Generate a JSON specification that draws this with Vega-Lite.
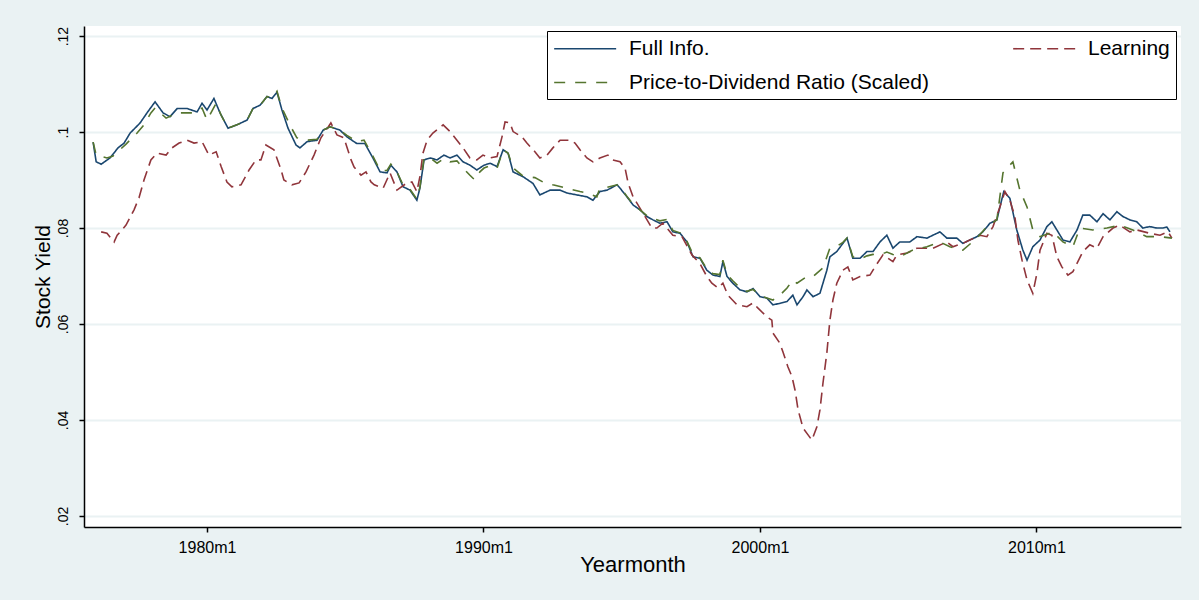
{
  "$schema": "https://vega.github.io/schema/vega-lite/v6.json",
  "width": 1097,
  "height": 501,
  "autosize": {"type": "none"},
  "padding": {"left": 84, "top": 26, "right": 18, "bottom": 73},
  "background": "#EAF2F3",
  "data": {"values": [
    {"s":"Full Info.","t":1975.88,"v":0.0979},{"s":"Full Info.","t":1975.99,"v":0.0938},{"s":"Full Info.","t":1976.17,"v":0.0933},{"s":"Full Info.","t":1976.49,"v":0.0946},{"s":"Full Info.","t":1976.78,"v":0.0967},{"s":"Full Info.","t":1977.00,"v":0.0977},{"s":"Full Info.","t":1977.22,"v":0.0998},{"s":"Full Info.","t":1977.58,"v":0.1019},{"s":"Full Info.","t":1977.83,"v":0.1040},{"s":"Full Info.","t":1978.12,"v":0.1063},{"s":"Full Info.","t":1978.41,"v":0.1040},{"s":"Full Info.","t":1978.66,"v":0.1032},{"s":"Full Info.","t":1978.92,"v":0.1049},{"s":"Full Info.","t":1979.28,"v":0.1049},{"s":"Full Info.","t":1979.64,"v":0.1042},{"s":"Full Info.","t":1979.82,"v":0.1060},{"s":"Full Info.","t":1980.00,"v":0.1046},{"s":"Full Info.","t":1980.25,"v":0.1070},{"s":"Full Info.","t":1980.47,"v":0.1040},{"s":"Full Info.","t":1980.76,"v":0.1008},{"s":"Full Info.","t":1981.08,"v":0.1015},{"s":"Full Info.","t":1981.45,"v":0.1025},{"s":"Full Info.","t":1981.66,"v":0.1049},{"s":"Full Info.","t":1981.92,"v":0.1056},{"s":"Full Info.","t":1982.17,"v":0.1074},{"s":"Full Info.","t":1982.35,"v":0.1070},{"s":"Full Info.","t":1982.53,"v":0.1083},{"s":"Full Info.","t":1982.71,"v":0.1046},{"s":"Full Info.","t":1982.93,"v":0.1008},{"s":"Full Info.","t":1983.22,"v":0.0973},{"s":"Full Info.","t":1983.36,"v":0.0967},{"s":"Full Info.","t":1983.62,"v":0.0980},{"s":"Full Info.","t":1983.98,"v":0.0983},{"s":"Full Info.","t":1984.20,"v":0.1004},{"s":"Full Info.","t":1984.45,"v":0.1011},{"s":"Full Info.","t":1984.81,"v":0.1004},{"s":"Full Info.","t":1985.06,"v":0.0990},{"s":"Full Info.","t":1985.42,"v":0.0976},{"s":"Full Info.","t":1985.71,"v":0.0976},{"s":"Full Info.","t":1986.00,"v":0.0946},{"s":"Full Info.","t":1986.26,"v":0.0917},{"s":"Full Info.","t":1986.51,"v":0.0915},{"s":"Full Info.","t":1986.65,"v":0.0931},{"s":"Full Info.","t":1986.87,"v":0.0917},{"s":"Full Info.","t":1987.09,"v":0.0886},{"s":"Full Info.","t":1987.34,"v":0.0879},{"s":"Full Info.","t":1987.59,"v":0.0858},{"s":"Full Info.","t":1987.70,"v":0.0883},{"s":"Full Info.","t":1987.85,"v":0.0942},{"s":"Full Info.","t":1988.07,"v":0.0946},{"s":"Full Info.","t":1988.32,"v":0.0942},{"s":"Full Info.","t":1988.57,"v":0.0952},{"s":"Full Info.","t":1988.79,"v":0.0946},{"s":"Full Info.","t":1989.04,"v":0.0952},{"s":"Full Info.","t":1989.26,"v":0.0938},{"s":"Full Info.","t":1989.51,"v":0.0931},{"s":"Full Info.","t":1989.76,"v":0.0921},{"s":"Full Info.","t":1990.02,"v":0.0931},{"s":"Full Info.","t":1990.24,"v":0.0935},{"s":"Full Info.","t":1990.49,"v":0.0928},{"s":"Full Info.","t":1990.71,"v":0.0963},{"s":"Full Info.","t":1990.89,"v":0.0956},{"s":"Full Info.","t":1991.07,"v":0.0917},{"s":"Full Info.","t":1991.43,"v":0.0907},{"s":"Full Info.","t":1991.79,"v":0.0893},{"s":"Full Info.","t":1992.04,"v":0.0869},{"s":"Full Info.","t":1992.41,"v":0.0879},{"s":"Full Info.","t":1992.77,"v":0.0879},{"s":"Full Info.","t":1993.02,"v":0.0873},{"s":"Full Info.","t":1993.38,"v":0.0869},{"s":"Full Info.","t":1993.74,"v":0.0865},{"s":"Full Info.","t":1993.96,"v":0.0858},{"s":"Full Info.","t":1994.21,"v":0.0876},{"s":"Full Info.","t":1994.47,"v":0.0879},{"s":"Full Info.","t":1994.83,"v":0.0890},{"s":"Full Info.","t":1994.94,"v":0.0883},{"s":"Full Info.","t":1995.19,"v":0.0865},{"s":"Full Info.","t":1995.41,"v":0.0848},{"s":"Full Info.","t":1995.66,"v":0.0838},{"s":"Full Info.","t":1995.91,"v":0.0824},{"s":"Full Info.","t":1996.13,"v":0.0817},{"s":"Full Info.","t":1996.38,"v":0.0810},{"s":"Full Info.","t":1996.64,"v":0.0813},{"s":"Full Info.","t":1996.85,"v":0.0792},{"s":"Full Info.","t":1997.11,"v":0.0789},{"s":"Full Info.","t":1997.36,"v":0.0771},{"s":"Full Info.","t":1997.58,"v":0.0740},{"s":"Full Info.","t":1997.83,"v":0.0737},{"s":"Full Info.","t":1998.08,"v":0.0712},{"s":"Full Info.","t":1998.30,"v":0.0702},{"s":"Full Info.","t":1998.55,"v":0.0699},{"s":"Full Info.","t":1998.66,"v":0.0730},{"s":"Full Info.","t":1998.81,"v":0.0699},{"s":"Full Info.","t":1999.02,"v":0.0685},{"s":"Full Info.","t":1999.28,"v":0.0671},{"s":"Full Info.","t":1999.53,"v":0.0667},{"s":"Full Info.","t":1999.75,"v":0.0674},{"s":"Full Info.","t":2000.00,"v":0.0657},{"s":"Full Info.","t":2000.25,"v":0.0654},{"s":"Full Info.","t":2000.47,"v":0.0640},{"s":"Full Info.","t":2000.72,"v":0.0643},{"s":"Full Info.","t":2000.98,"v":0.0647},{"s":"Full Info.","t":2001.19,"v":0.0660},{"s":"Full Info.","t":2001.34,"v":0.0640},{"s":"Full Info.","t":2001.56,"v":0.0657},{"s":"Full Info.","t":2001.70,"v":0.0671},{"s":"Full Info.","t":2001.92,"v":0.0657},{"s":"Full Info.","t":2002.17,"v":0.0664},{"s":"Full Info.","t":2002.42,"v":0.0712},{"s":"Full Info.","t":2002.53,"v":0.0740},{"s":"Full Info.","t":2002.78,"v":0.0751},{"s":"Full Info.","t":2003.00,"v":0.0768},{"s":"Full Info.","t":2003.15,"v":0.0779},{"s":"Full Info.","t":2003.36,"v":0.0737},{"s":"Full Info.","t":2003.62,"v":0.0737},{"s":"Full Info.","t":2003.87,"v":0.0751},{"s":"Full Info.","t":2004.09,"v":0.0751},{"s":"Full Info.","t":2004.34,"v":0.0771},{"s":"Full Info.","t":2004.59,"v":0.0785},{"s":"Full Info.","t":2004.81,"v":0.0758},{"s":"Full Info.","t":2005.06,"v":0.0771},{"s":"Full Info.","t":2005.42,"v":0.0771},{"s":"Full Info.","t":2005.68,"v":0.0782},{"s":"Full Info.","t":2006.04,"v":0.0779},{"s":"Full Info.","t":2006.51,"v":0.0792},{"s":"Full Info.","t":2006.76,"v":0.0779},{"s":"Full Info.","t":2007.12,"v":0.0779},{"s":"Full Info.","t":2007.34,"v":0.0768},{"s":"Full Info.","t":2007.59,"v":0.0775},{"s":"Full Info.","t":2007.85,"v":0.0782},{"s":"Full Info.","t":2008.06,"v":0.0792},{"s":"Full Info.","t":2008.32,"v":0.0810},{"s":"Full Info.","t":2008.57,"v":0.0817},{"s":"Full Info.","t":2008.68,"v":0.0844},{"s":"Full Info.","t":2008.82,"v":0.0876},{"s":"Full Info.","t":2009.04,"v":0.0862},{"s":"Full Info.","t":2009.29,"v":0.0796},{"s":"Full Info.","t":2009.51,"v":0.0754},{"s":"Full Info.","t":2009.66,"v":0.0733},{"s":"Full Info.","t":2009.87,"v":0.0761},{"s":"Full Info.","t":2010.13,"v":0.0775},{"s":"Full Info.","t":2010.38,"v":0.0803},{"s":"Full Info.","t":2010.56,"v":0.0813},{"s":"Full Info.","t":2010.74,"v":0.0796},{"s":"Full Info.","t":2010.96,"v":0.0775},{"s":"Full Info.","t":2011.21,"v":0.0771},{"s":"Full Info.","t":2011.47,"v":0.0796},{"s":"Full Info.","t":2011.68,"v":0.0827},{"s":"Full Info.","t":2011.93,"v":0.0827},{"s":"Full Info.","t":2012.19,"v":0.0813},{"s":"Full Info.","t":2012.41,"v":0.0830},{"s":"Full Info.","t":2012.66,"v":0.0817},{"s":"Full Info.","t":2012.91,"v":0.0834},{"s":"Full Info.","t":2013.13,"v":0.0824},{"s":"Full Info.","t":2013.38,"v":0.0817},{"s":"Full Info.","t":2013.63,"v":0.0813},{"s":"Full Info.","t":2013.85,"v":0.0800},{"s":"Full Info.","t":2014.10,"v":0.0803},{"s":"Full Info.","t":2014.35,"v":0.0800},{"s":"Full Info.","t":2014.58,"v":0.0800},{"s":"Full Info.","t":2014.72,"v":0.0802},{"s":"Full Info.","t":2014.83,"v":0.0792},

    {"s":"Learning","t":1976.17,"v":0.0792},{"s":"Learning","t":1976.38,"v":0.0789},{"s":"Learning","t":1976.64,"v":0.0771},{"s":"Learning","t":1976.75,"v":0.0785},{"s":"Learning","t":1977.07,"v":0.0806},{"s":"Learning","t":1977.36,"v":0.0838},{"s":"Learning","t":1977.54,"v":0.0863},{"s":"Learning","t":1977.72,"v":0.0900},{"s":"Learning","t":1977.97,"v":0.0942},{"s":"Learning","t":1978.19,"v":0.0956},{"s":"Learning","t":1978.52,"v":0.0952},{"s":"Learning","t":1978.73,"v":0.0967},{"s":"Learning","t":1978.99,"v":0.0977},{"s":"Learning","t":1979.28,"v":0.0983},{"s":"Learning","t":1979.53,"v":0.0977},{"s":"Learning","t":1979.82,"v":0.0980},{"s":"Learning","t":1980.07,"v":0.0952},{"s":"Learning","t":1980.33,"v":0.0959},{"s":"Learning","t":1980.51,"v":0.0928},{"s":"Learning","t":1980.72,"v":0.0896},{"s":"Learning","t":1980.90,"v":0.0886},{"s":"Learning","t":1981.23,"v":0.0890},{"s":"Learning","t":1981.52,"v":0.0921},{"s":"Learning","t":1981.77,"v":0.0942},{"s":"Learning","t":1981.95,"v":0.0942},{"s":"Learning","t":1982.13,"v":0.0973},{"s":"Learning","t":1982.42,"v":0.0963},{"s":"Learning","t":1982.68,"v":0.0921},{"s":"Learning","t":1982.78,"v":0.0900},{"s":"Learning","t":1983.07,"v":0.0890},{"s":"Learning","t":1983.33,"v":0.0894},{"s":"Learning","t":1983.58,"v":0.0917},{"s":"Learning","t":1983.87,"v":0.0952},{"s":"Learning","t":1984.12,"v":0.0988},{"s":"Learning","t":1984.48,"v":0.1019},{"s":"Learning","t":1984.70,"v":0.0994},{"s":"Learning","t":1984.95,"v":0.0988},{"s":"Learning","t":1985.21,"v":0.0942},{"s":"Learning","t":1985.32,"v":0.0927},{"s":"Learning","t":1985.57,"v":0.0910},{"s":"Learning","t":1985.75,"v":0.0917},{"s":"Learning","t":1985.93,"v":0.0896},{"s":"Learning","t":1986.05,"v":0.0890},{"s":"Learning","t":1986.37,"v":0.0883},{"s":"Learning","t":1986.62,"v":0.0915},{"s":"Learning","t":1986.87,"v":0.0879},{"s":"Learning","t":1987.23,"v":0.0894},{"s":"Learning","t":1987.41,"v":0.0896},{"s":"Learning","t":1987.59,"v":0.0876},{"s":"Learning","t":1987.70,"v":0.0907},{"s":"Learning","t":1987.81,"v":0.0956},{"s":"Learning","t":1987.96,"v":0.0983},{"s":"Learning","t":1988.17,"v":0.0998},{"s":"Learning","t":1988.54,"v":0.1015},{"s":"Learning","t":1988.79,"v":0.1001},{"s":"Learning","t":1989.04,"v":0.0983},{"s":"Learning","t":1989.26,"v":0.0967},{"s":"Learning","t":1989.51,"v":0.0946},{"s":"Learning","t":1989.76,"v":0.0942},{"s":"Learning","t":1989.98,"v":0.0952},{"s":"Learning","t":1990.24,"v":0.0946},{"s":"Learning","t":1990.49,"v":0.0949},{"s":"Learning","t":1990.67,"v":0.0990},{"s":"Learning","t":1990.78,"v":0.1021},{"s":"Learning","t":1990.96,"v":0.1019},{"s":"Learning","t":1991.07,"v":0.1001},{"s":"Learning","t":1991.39,"v":0.0990},{"s":"Learning","t":1991.57,"v":0.0977},{"s":"Learning","t":1991.86,"v":0.0959},{"s":"Learning","t":1992.04,"v":0.0946},{"s":"Learning","t":1992.30,"v":0.0952},{"s":"Learning","t":1992.51,"v":0.0967},{"s":"Learning","t":1992.77,"v":0.0983},{"s":"Learning","t":1993.13,"v":0.0983},{"s":"Learning","t":1993.31,"v":0.0977},{"s":"Learning","t":1993.49,"v":0.0963},{"s":"Learning","t":1993.74,"v":0.0946},{"s":"Learning","t":1993.96,"v":0.0938},{"s":"Learning","t":1994.21,"v":0.0946},{"s":"Learning","t":1994.50,"v":0.0952},{"s":"Learning","t":1994.68,"v":0.0942},{"s":"Learning","t":1994.94,"v":0.0938},{"s":"Learning","t":1995.12,"v":0.0925},{"s":"Learning","t":1995.23,"v":0.0894},{"s":"Learning","t":1995.41,"v":0.0865},{"s":"Learning","t":1995.55,"v":0.0852},{"s":"Learning","t":1995.77,"v":0.0831},{"s":"Learning","t":1996.09,"v":0.0800},{"s":"Learning","t":1996.27,"v":0.0800},{"s":"Learning","t":1996.49,"v":0.0810},{"s":"Learning","t":1996.85,"v":0.0785},{"s":"Learning","t":1997.18,"v":0.0782},{"s":"Learning","t":1997.54,"v":0.0744},{"s":"Learning","t":1997.83,"v":0.0726},{"s":"Learning","t":1998.08,"v":0.0699},{"s":"Learning","t":1998.26,"v":0.0685},{"s":"Learning","t":1998.48,"v":0.0675},{"s":"Learning","t":1998.66,"v":0.0685},{"s":"Learning","t":1998.84,"v":0.0660},{"s":"Learning","t":1999.17,"v":0.0640},{"s":"Learning","t":1999.53,"v":0.0636},{"s":"Learning","t":1999.75,"v":0.0644},{"s":"Learning","t":1999.93,"v":0.0633},{"s":"Learning","t":2000.25,"v":0.0615},{"s":"Learning","t":2000.43,"v":0.0608},{"s":"Learning","t":2000.47,"v":0.0581},{"s":"Learning","t":2000.72,"v":0.0560},{"s":"Learning","t":2000.83,"v":0.0542},{"s":"Learning","t":2001.01,"v":0.0511},{"s":"Learning","t":2001.16,"v":0.0490},{"s":"Learning","t":2001.27,"v":0.0462},{"s":"Learning","t":2001.38,"v":0.0421},{"s":"Learning","t":2001.56,"v":0.0383},{"s":"Learning","t":2001.74,"v":0.0369},{"s":"Learning","t":2001.88,"v":0.0358},{"s":"Learning","t":2002.06,"v":0.0386},{"s":"Learning","t":2002.17,"v":0.0421},{"s":"Learning","t":2002.28,"v":0.0477},{"s":"Learning","t":2002.42,"v":0.0540},{"s":"Learning","t":2002.53,"v":0.0608},{"s":"Learning","t":2002.64,"v":0.0650},{"s":"Learning","t":2002.78,"v":0.0685},{"s":"Learning","t":2003.00,"v":0.0712},{"s":"Learning","t":2003.18,"v":0.0719},{"s":"Learning","t":2003.36,"v":0.0692},{"s":"Learning","t":2003.62,"v":0.0699},{"s":"Learning","t":2003.98,"v":0.0702},{"s":"Learning","t":2004.16,"v":0.0719},{"s":"Learning","t":2004.45,"v":0.0744},{"s":"Learning","t":2004.81,"v":0.0730},{"s":"Learning","t":2004.95,"v":0.0744},{"s":"Learning","t":2005.32,"v":0.0748},{"s":"Learning","t":2005.68,"v":0.0758},{"s":"Learning","t":2006.04,"v":0.0758},{"s":"Learning","t":2006.26,"v":0.0758},{"s":"Learning","t":2006.76,"v":0.0771},{"s":"Learning","t":2006.98,"v":0.0761},{"s":"Learning","t":2007.34,"v":0.0768},{"s":"Learning","t":2007.59,"v":0.0775},{"s":"Learning","t":2007.96,"v":0.0785},{"s":"Learning","t":2008.21,"v":0.0782},{"s":"Learning","t":2008.43,"v":0.0803},{"s":"Learning","t":2008.68,"v":0.0844},{"s":"Learning","t":2008.86,"v":0.0876},{"s":"Learning","t":2009.04,"v":0.0858},{"s":"Learning","t":2009.22,"v":0.0824},{"s":"Learning","t":2009.33,"v":0.0775},{"s":"Learning","t":2009.48,"v":0.0733},{"s":"Learning","t":2009.66,"v":0.0692},{"s":"Learning","t":2009.87,"v":0.0664},{"s":"Learning","t":2010.02,"v":0.0706},{"s":"Learning","t":2010.13,"v":0.0754},{"s":"Learning","t":2010.38,"v":0.0789},{"s":"Learning","t":2010.56,"v":0.0785},{"s":"Learning","t":2010.74,"v":0.0740},{"s":"Learning","t":2010.92,"v":0.0719},{"s":"Learning","t":2011.14,"v":0.0702},{"s":"Learning","t":2011.32,"v":0.0709},{"s":"Learning","t":2011.50,"v":0.0730},{"s":"Learning","t":2011.68,"v":0.0751},{"s":"Learning","t":2011.93,"v":0.0765},{"s":"Learning","t":2012.19,"v":0.0758},{"s":"Learning","t":2012.41,"v":0.0782},{"s":"Learning","t":2012.77,"v":0.0800},{"s":"Learning","t":2013.02,"v":0.0806},{"s":"Learning","t":2013.38,"v":0.0792},{"s":"Learning","t":2013.63,"v":0.0796},{"s":"Learning","t":2014.10,"v":0.0789},{"s":"Learning","t":2014.47,"v":0.0785},{"s":"Learning","t":2014.76,"v":0.0792},{"s":"Learning","t":2014.90,"v":0.0779},

    {"s":"Price-to-Dividend Ratio (Scaled)","t":1975.88,"v":0.0979},{"s":"Price-to-Dividend Ratio (Scaled)","t":1975.99,"v":0.0952},{"s":"Price-to-Dividend Ratio (Scaled)","t":1976.38,"v":0.0946},{"s":"Price-to-Dividend Ratio (Scaled)","t":1976.60,"v":0.0950},{"s":"Price-to-Dividend Ratio (Scaled)","t":1976.85,"v":0.0963},{"s":"Price-to-Dividend Ratio (Scaled)","t":1977.07,"v":0.0975},{"s":"Price-to-Dividend Ratio (Scaled)","t":1977.47,"v":0.0998},{"s":"Price-to-Dividend Ratio (Scaled)","t":1977.72,"v":0.1015},{"s":"Price-to-Dividend Ratio (Scaled)","t":1977.97,"v":0.1040},{"s":"Price-to-Dividend Ratio (Scaled)","t":1978.12,"v":0.1050},{"s":"Price-to-Dividend Ratio (Scaled)","t":1978.52,"v":0.1029},{"s":"Price-to-Dividend Ratio (Scaled)","t":1978.92,"v":0.1040},{"s":"Price-to-Dividend Ratio (Scaled)","t":1979.53,"v":0.1040},{"s":"Price-to-Dividend Ratio (Scaled)","t":1979.82,"v":0.1050},{"s":"Price-to-Dividend Ratio (Scaled)","t":1980.00,"v":0.1025},{"s":"Price-to-Dividend Ratio (Scaled)","t":1980.33,"v":0.1060},{"s":"Price-to-Dividend Ratio (Scaled)","t":1980.51,"v":0.1035},{"s":"Price-to-Dividend Ratio (Scaled)","t":1980.76,"v":0.1008},{"s":"Price-to-Dividend Ratio (Scaled)","t":1981.08,"v":0.1015},{"s":"Price-to-Dividend Ratio (Scaled)","t":1981.45,"v":0.1025},{"s":"Price-to-Dividend Ratio (Scaled)","t":1981.66,"v":0.1049},{"s":"Price-to-Dividend Ratio (Scaled)","t":1981.92,"v":0.1056},{"s":"Price-to-Dividend Ratio (Scaled)","t":1982.17,"v":0.1074},{"s":"Price-to-Dividend Ratio (Scaled)","t":1982.35,"v":0.1072},{"s":"Price-to-Dividend Ratio (Scaled)","t":1982.53,"v":0.1085},{"s":"Price-to-Dividend Ratio (Scaled)","t":1982.71,"v":0.1050},{"s":"Price-to-Dividend Ratio (Scaled)","t":1983.04,"v":0.1010},{"s":"Price-to-Dividend Ratio (Scaled)","t":1983.25,"v":0.0988},{"s":"Price-to-Dividend Ratio (Scaled)","t":1983.62,"v":0.0983},{"s":"Price-to-Dividend Ratio (Scaled)","t":1983.98,"v":0.0985},{"s":"Price-to-Dividend Ratio (Scaled)","t":1984.20,"v":0.1004},{"s":"Price-to-Dividend Ratio (Scaled)","t":1984.45,"v":0.1011},{"s":"Price-to-Dividend Ratio (Scaled)","t":1984.81,"v":0.1004},{"s":"Price-to-Dividend Ratio (Scaled)","t":1985.06,"v":0.0993},{"s":"Price-to-Dividend Ratio (Scaled)","t":1985.42,"v":0.0980},{"s":"Price-to-Dividend Ratio (Scaled)","t":1985.68,"v":0.0983},{"s":"Price-to-Dividend Ratio (Scaled)","t":1986.00,"v":0.0950},{"s":"Price-to-Dividend Ratio (Scaled)","t":1986.26,"v":0.0920},{"s":"Price-to-Dividend Ratio (Scaled)","t":1986.51,"v":0.0920},{"s":"Price-to-Dividend Ratio (Scaled)","t":1986.65,"v":0.0933},{"s":"Price-to-Dividend Ratio (Scaled)","t":1986.87,"v":0.0917},{"s":"Price-to-Dividend Ratio (Scaled)","t":1987.09,"v":0.0890},{"s":"Price-to-Dividend Ratio (Scaled)","t":1987.34,"v":0.0881},{"s":"Price-to-Dividend Ratio (Scaled)","t":1987.59,"v":0.0860},{"s":"Price-to-Dividend Ratio (Scaled)","t":1987.70,"v":0.0885},{"s":"Price-to-Dividend Ratio (Scaled)","t":1987.85,"v":0.0946},{"s":"Price-to-Dividend Ratio (Scaled)","t":1988.07,"v":0.0946},{"s":"Price-to-Dividend Ratio (Scaled)","t":1988.32,"v":0.0935},{"s":"Price-to-Dividend Ratio (Scaled)","t":1988.57,"v":0.0945},{"s":"Price-to-Dividend Ratio (Scaled)","t":1988.79,"v":0.0938},{"s":"Price-to-Dividend Ratio (Scaled)","t":1989.04,"v":0.0940},{"s":"Price-to-Dividend Ratio (Scaled)","t":1989.26,"v":0.0925},{"s":"Price-to-Dividend Ratio (Scaled)","t":1989.51,"v":0.0910},{"s":"Price-to-Dividend Ratio (Scaled)","t":1989.69,"v":0.0900},{"s":"Price-to-Dividend Ratio (Scaled)","t":1989.87,"v":0.0917},{"s":"Price-to-Dividend Ratio (Scaled)","t":1990.02,"v":0.0925},{"s":"Price-to-Dividend Ratio (Scaled)","t":1990.24,"v":0.0930},{"s":"Price-to-Dividend Ratio (Scaled)","t":1990.49,"v":0.0925},{"s":"Price-to-Dividend Ratio (Scaled)","t":1990.71,"v":0.0963},{"s":"Price-to-Dividend Ratio (Scaled)","t":1990.89,"v":0.0956},{"s":"Price-to-Dividend Ratio (Scaled)","t":1991.07,"v":0.0925},{"s":"Price-to-Dividend Ratio (Scaled)","t":1991.39,"v":0.0910},{"s":"Price-to-Dividend Ratio (Scaled)","t":1991.57,"v":0.0907},{"s":"Price-to-Dividend Ratio (Scaled)","t":1991.86,"v":0.0905},{"s":"Price-to-Dividend Ratio (Scaled)","t":1992.15,"v":0.0896},{"s":"Price-to-Dividend Ratio (Scaled)","t":1992.51,"v":0.0890},{"s":"Price-to-Dividend Ratio (Scaled)","t":1992.88,"v":0.0885},{"s":"Price-to-Dividend Ratio (Scaled)","t":1993.20,"v":0.0880},{"s":"Price-to-Dividend Ratio (Scaled)","t":1993.49,"v":0.0876},{"s":"Price-to-Dividend Ratio (Scaled)","t":1993.74,"v":0.0873},{"s":"Price-to-Dividend Ratio (Scaled)","t":1994.10,"v":0.0865},{"s":"Price-to-Dividend Ratio (Scaled)","t":1994.21,"v":0.0883},{"s":"Price-to-Dividend Ratio (Scaled)","t":1994.47,"v":0.0885},{"s":"Price-to-Dividend Ratio (Scaled)","t":1994.83,"v":0.0890},{"s":"Price-to-Dividend Ratio (Scaled)","t":1994.94,"v":0.0885},{"s":"Price-to-Dividend Ratio (Scaled)","t":1995.19,"v":0.0866},{"s":"Price-to-Dividend Ratio (Scaled)","t":1995.41,"v":0.0850},{"s":"Price-to-Dividend Ratio (Scaled)","t":1995.66,"v":0.0838},{"s":"Price-to-Dividend Ratio (Scaled)","t":1995.91,"v":0.0826},{"s":"Price-to-Dividend Ratio (Scaled)","t":1996.13,"v":0.0820},{"s":"Price-to-Dividend Ratio (Scaled)","t":1996.38,"v":0.0815},{"s":"Price-to-Dividend Ratio (Scaled)","t":1996.64,"v":0.0818},{"s":"Price-to-Dividend Ratio (Scaled)","t":1996.85,"v":0.0795},{"s":"Price-to-Dividend Ratio (Scaled)","t":1997.11,"v":0.0790},{"s":"Price-to-Dividend Ratio (Scaled)","t":1997.36,"v":0.0772},{"s":"Price-to-Dividend Ratio (Scaled)","t":1997.58,"v":0.0745},{"s":"Price-to-Dividend Ratio (Scaled)","t":1997.83,"v":0.0738},{"s":"Price-to-Dividend Ratio (Scaled)","t":1998.08,"v":0.0715},{"s":"Price-to-Dividend Ratio (Scaled)","t":1998.30,"v":0.0705},{"s":"Price-to-Dividend Ratio (Scaled)","t":1998.55,"v":0.0703},{"s":"Price-to-Dividend Ratio (Scaled)","t":1998.66,"v":0.0733},{"s":"Price-to-Dividend Ratio (Scaled)","t":1998.81,"v":0.0703},{"s":"Price-to-Dividend Ratio (Scaled)","t":1999.02,"v":0.0690},{"s":"Price-to-Dividend Ratio (Scaled)","t":1999.28,"v":0.0675},{"s":"Price-to-Dividend Ratio (Scaled)","t":1999.53,"v":0.0668},{"s":"Price-to-Dividend Ratio (Scaled)","t":1999.75,"v":0.0672},{"s":"Price-to-Dividend Ratio (Scaled)","t":2000.00,"v":0.0660},{"s":"Price-to-Dividend Ratio (Scaled)","t":2000.25,"v":0.0654},{"s":"Price-to-Dividend Ratio (Scaled)","t":2000.47,"v":0.0650},{"s":"Price-to-Dividend Ratio (Scaled)","t":2000.72,"v":0.0660},{"s":"Price-to-Dividend Ratio (Scaled)","t":2000.98,"v":0.0675},{"s":"Price-to-Dividend Ratio (Scaled)","t":2001.19,"v":0.0692},{"s":"Price-to-Dividend Ratio (Scaled)","t":2001.34,"v":0.0685},{"s":"Price-to-Dividend Ratio (Scaled)","t":2001.70,"v":0.0699},{"s":"Price-to-Dividend Ratio (Scaled)","t":2001.92,"v":0.0699},{"s":"Price-to-Dividend Ratio (Scaled)","t":2002.28,"v":0.0717},{"s":"Price-to-Dividend Ratio (Scaled)","t":2002.53,"v":0.0758},{"s":"Price-to-Dividend Ratio (Scaled)","t":2002.78,"v":0.0762},{"s":"Price-to-Dividend Ratio (Scaled)","t":2003.00,"v":0.0770},{"s":"Price-to-Dividend Ratio (Scaled)","t":2003.15,"v":0.0779},{"s":"Price-to-Dividend Ratio (Scaled)","t":2003.36,"v":0.0740},{"s":"Price-to-Dividend Ratio (Scaled)","t":2003.62,"v":0.0735},{"s":"Price-to-Dividend Ratio (Scaled)","t":2003.87,"v":0.0742},{"s":"Price-to-Dividend Ratio (Scaled)","t":2004.09,"v":0.0745},{"s":"Price-to-Dividend Ratio (Scaled)","t":2004.34,"v":0.0744},{"s":"Price-to-Dividend Ratio (Scaled)","t":2004.59,"v":0.0750},{"s":"Price-to-Dividend Ratio (Scaled)","t":2004.81,"v":0.0745},{"s":"Price-to-Dividend Ratio (Scaled)","t":2005.06,"v":0.0740},{"s":"Price-to-Dividend Ratio (Scaled)","t":2005.53,"v":0.0754},{"s":"Price-to-Dividend Ratio (Scaled)","t":2006.04,"v":0.0761},{"s":"Price-to-Dividend Ratio (Scaled)","t":2006.51,"v":0.0771},{"s":"Price-to-Dividend Ratio (Scaled)","t":2006.87,"v":0.0761},{"s":"Price-to-Dividend Ratio (Scaled)","t":2007.34,"v":0.0754},{"s":"Price-to-Dividend Ratio (Scaled)","t":2007.85,"v":0.0779},{"s":"Price-to-Dividend Ratio (Scaled)","t":2008.21,"v":0.0803},{"s":"Price-to-Dividend Ratio (Scaled)","t":2008.57,"v":0.0817},{"s":"Price-to-Dividend Ratio (Scaled)","t":2008.79,"v":0.0915},{"s":"Price-to-Dividend Ratio (Scaled)","t":2009.15,"v":0.0938},{"s":"Price-to-Dividend Ratio (Scaled)","t":2009.40,"v":0.0879},{"s":"Price-to-Dividend Ratio (Scaled)","t":2009.66,"v":0.0844},{"s":"Price-to-Dividend Ratio (Scaled)","t":2009.87,"v":0.0796},{"s":"Price-to-Dividend Ratio (Scaled)","t":2010.13,"v":0.0782},{"s":"Price-to-Dividend Ratio (Scaled)","t":2010.60,"v":0.0792},{"s":"Price-to-Dividend Ratio (Scaled)","t":2010.96,"v":0.0771},{"s":"Price-to-Dividend Ratio (Scaled)","t":2011.32,"v":0.0761},{"s":"Price-to-Dividend Ratio (Scaled)","t":2011.57,"v":0.0800},{"s":"Price-to-Dividend Ratio (Scaled)","t":2012.04,"v":0.0796},{"s":"Price-to-Dividend Ratio (Scaled)","t":2012.55,"v":0.0800},{"s":"Price-to-Dividend Ratio (Scaled)","t":2013.02,"v":0.0806},{"s":"Price-to-Dividend Ratio (Scaled)","t":2013.49,"v":0.0796},{"s":"Price-to-Dividend Ratio (Scaled)","t":2013.99,"v":0.0782},{"s":"Price-to-Dividend Ratio (Scaled)","t":2014.47,"v":0.0782},{"s":"Price-to-Dividend Ratio (Scaled)","t":2014.90,"v":0.0779}
  ]},
  "mark": {"type": "line", "strokeWidth": 1.6, "interpolate": "linear"},
  "encoding": {
    "x": {
      "field": "t", "type": "quantitative",
      "scale": {"domain": [1975.55, 2015.23], "nice": false, "zero": false},
      "axis": {
        "title": "Yearmonth", "values": [1980, 1990, 2000, 2010],
        "labelExpr": "datum.value + 'm1'", "grid": false,
        "labelFontSize": 16, "labelPadding": 7, "titleFontSize": 22, "titlePadding": -1
      }
    },
    "y": {
      "field": "v", "type": "quantitative",
      "scale": {"domain": [0.0177, 0.1221], "nice": false, "zero": false},
      "axis": {
        "title": "Stock Yield", "values": [0.02, 0.04, 0.06, 0.08, 0.1, 0.12],
        "labelExpr": "replace(format(datum.value, '.2~f'), '0.', '.')",
        "grid": true, "gridColor": "#EAF2F3", "gridWidth": 2,
        "labelAngle": -90, "labelAlign": "center", "labelBaseline": "bottom",
        "labelFontSize": 14, "labelPadding": 9, "titleFontSize": 21, "titlePadding": 3
      }
    },
    "color": {
      "field": "s", "type": "nominal", "title": null,
      "scale": {"domain": ["Full Info.", "Learning", "Price-to-Dividend Ratio (Scaled)"], "range": ["#1A476F", "#90353B", "#55752F"]}
    },
    "strokeDash": {
      "field": "s", "type": "nominal", "title": null,
      "scale": {"domain": ["Full Info.", "Learning", "Price-to-Dividend Ratio (Scaled)"], "range": [[1, 0], [11, 6], [11, 10]]}
    }
  },
  "config": {
    "view": {"fill": "white", "stroke": null},
    "axis": {
      "domainColor": "black", "domainWidth": 1.5, "tickColor": "black", "tickWidth": 1.5, "tickSize": 5,
      "labelColor": "black", "titleColor": "black", "labelFont": "Liberation Sans", "titleFont": "Liberation Sans",
      "titleFontWeight": "normal"
    },
    "legend": {
      "orient": "top-right", "offset": 5, "columns": 2, "direction": "horizontal",
      "strokeColor": "black", "fillColor": "white", "padding": 6,
      "symbolType": "M-1,0H5", "symbolSize": 427, "symbolStrokeWidth": 1.6,
      "labelFont": "Liberation Sans", "labelFontSize": 21, "labelColor": "black", "labelOffset": 53, "labelLimit": 500,
      "rowPadding": 12, "columnPadding": 80
    }
  }
}
